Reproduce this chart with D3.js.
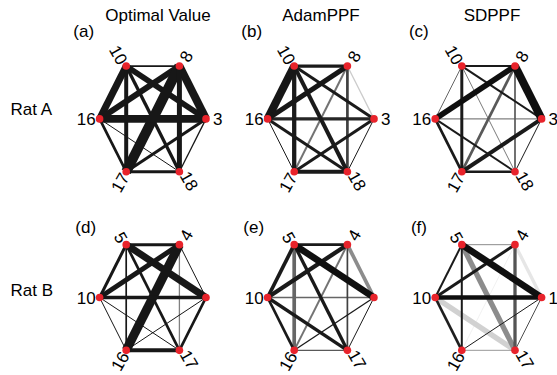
<!DOCTYPE html>
<html>
<head>
<meta charset="utf-8">
<script src="https://cdn.jsdelivr.net/npm/d3@7"></script>
<style>
  html, body { margin: 0; padding: 0; background: #fff; }
  svg { display: block; font-family: "Liberation Sans", Arial, Helvetica, sans-serif; }
</style>
</head>
<body>
<svg id="chart" width="557" height="375"></svg>
<script>
// Node labels, counter-clockwise from the rightmost vertex of the hexagon
const ratANodes = ["3", "8", "10", "16", "17", "18"];
const ratBNodes = ["1", "4", "5", "10", "16", "17"];

// Vertex index: 0 = right, 1 = top-right, 2 = top-left, 3 = left, 4 = bottom-left, 5 = bottom-right
const edgePairs = [
  [2, 1], [2, 3], [2, 0], [2, 4], [2, 5],
  [1, 3], [1, 0], [1, 4], [1, 5],
  [3, 0], [3, 4], [3, 5],
  [0, 4], [0, 5],
  [4, 5]
];

const methods = ["Optimal Value", "AdamPPF", "SDPPF"];
const rats = ["Rat A", "Rat B"];
const panelTags = ["(a)", "(b)", "(c)", "(d)", "(e)", "(f)"];

// Edge weights (0..1), same order as edgePairs
const weightOptimalA = [0.17, 0.70, 0.57, 0.40, 0.33, 0.60, 0.80, 1.00, 0.50, 0.77, 0.27, 0.10, 0.30, 0.13, 0.30];
const weightAdamA    = [0.33, 0.80, 0.30, 0.43, 0.40, 0.50, 0.13, 0.20, 0.27, 0.33, 0.10, 0.30, 0.30, 0.10, 0.40];
const weightSdA      = [0.20, 0.10, 0.20, 0.30, 0.08, 0.57, 0.80, 0.27, 0.17, 0.13, 0.27, 0.20, 0.40, 0.10, 0.27];
const weightOptimalB = [0.30, 0.30, 0.70, 0.17, 0.27, 0.50, 0.10, 0.90, 0.13, 0.37, 0.10, 0.10, 0.10, 0.27, 0.40];
const weightAdamB    = [0.27, 0.37, 0.67, 0.37, 0.33, 0.43, 0.37, 0.20, 0.17, 0.13, 0.27, 0.33, 0.13, 0.10, 0.13];
const weightSdB      = [0.10, 0.20, 0.67, 0.20, 0.53, 0.30, 0.33, 0.07, 0.33, 0.47, 0.27, 0.53, 0.10, 0.10, 0.10];

// Edge shade (0 = black, 1 = white), same order as edgePairs
const shadeOptimalA = [0.09, 0.09, 0.09, 0.09, 0.09, 0.09, 0.09, 0.09, 0.09, 0.09, 0.09, 0.09, 0.09, 0.09, 0.09];
const shadeAdamA    = [0.10, 0.09, 0.10, 0.10, 0.10, 0.09, 0.80, 0.45, 0.25, 0.15, 0.10, 0.10, 0.10, 0.10, 0.10];
const shadeSdA      = [0.10, 0.40, 0.10, 0.10, 0.35, 0.06, 0.06, 0.35, 0.35, 0.50, 0.10, 0.10, 0.10, 0.10, 0.10];
const shadeOptimalB = [0.09, 0.09, 0.09, 0.09, 0.09, 0.09, 0.09, 0.09, 0.50, 0.09, 0.09, 0.09, 0.09, 0.09, 0.09];
const shadeAdamB    = [0.10, 0.10, 0.06, 0.40, 0.10, 0.10, 0.55, 0.45, 0.25, 0.40, 0.10, 0.10, 0.10, 0.10, 0.35];
const shadeSdB      = [0.55, 0.10, 0.06, 0.10, 0.55, 0.10, 0.90, 0.92, 0.33, 0.06, 0.12, 0.82, 0.10, 0.30, 0.60];

const panels = [
  { row: 0, col: 0, nodes: ratANodes, weight: weightOptimalA, shade: shadeOptimalA },
  { row: 0, col: 1, nodes: ratANodes, weight: weightAdamA,    shade: shadeAdamA },
  { row: 0, col: 2, nodes: ratANodes, weight: weightSdA,      shade: shadeSdA },
  { row: 1, col: 0, nodes: ratBNodes, weight: weightOptimalB, shade: shadeOptimalB },
  { row: 1, col: 1, nodes: ratBNodes, weight: weightAdamB,    shade: shadeAdamB },
  { row: 1, col: 2, nodes: ratBNodes, weight: weightSdB,      shade: shadeSdB }
];

const svg = d3.select("#chart");

const colCenters = [152.8, 320.8, 488.4];
const rowCenters = [118.9, 297.5];
const radiusX = 53.2;
const radiusY = 61.0;   // vertical extent of the unit circle (axes not equal)

const widthScale = d3.scaleLinear().domain([0, 1]).range([0, 10]);
const shadeScale = d3.scaleLinear().domain([0, 1]).range(["#000000", "#ffffff"]);
const nodeColor = "#e8232b";
const fontSize = 17;

// Label gap from the node centre and sideways shift (in the rotated text frame), per vertex
const labelGap   = [7, 7, 4, 4, 3, 3.5];
const labelShift = [0, 1, 1, 0, 0, -4];

// Column titles
const titleX = [158, 321, 492];
svg.selectAll("text.title")
  .data(methods)
  .join("text")
  .attr("class", "title")
  .attr("x", (d, i) => titleX[i])
  .attr("y", 20.5)
  .attr("text-anchor", "middle")
  .attr("font-size", fontSize)
  .text(d => d);

// Row labels
svg.selectAll("text.rat")
  .data(rats)
  .join("text")
  .attr("class", "rat")
  .attr("x", 10.5)
  .attr("y", (d, i) => [115, 296][i])
  .attr("font-size", fontSize)
  .text(d => d);

panels.forEach((p, pi) => {
  const cx = colCenters[p.col];
  const cy = rowCenters[p.row];
  const x = d3.scaleLinear().domain([-1, 1]).range([cx - radiusX, cx + radiusX]);
  const y = d3.scaleLinear().domain([-1, 1]).range([cy + radiusY, cy - radiusY]);

  const g = svg.append("g").attr("class", "panel");

  // Axes background of the lower panels reaches slightly into the neighbour on the left
  if (p.row === 1 && p.col > 0) {
    g.append("rect")
      .attr("x", cx - 110.5).attr("y", cy - 100)
      .attr("width", 40).attr("height", 200)
      .attr("fill", "#fff");
  }

  const verts = p.nodes.map((label, i) => {
    const a = i * Math.PI / 3;
    return { label, i, angle: i * 60, ux: Math.cos(a), uy: Math.sin(a) };
  });

  g.append("text")
    .attr("x", cx + (p.row === 0 ? -79.5 : -77.5))
    .attr("y", p.row === 0 ? cy - 82 : cy - 64.5)
    .attr("font-size", fontSize)
    .text(panelTags[pi]);

  // Lighter edges go underneath darker ones
  const edges = edgePairs
    .map((e, k) => ({ s: verts[e[0]], t: verts[e[1]], w: p.weight[k], c: p.shade[k], k }))
    .sort((a, b) => d3.descending(a.c, b.c) || d3.ascending(a.k, b.k));

  g.selectAll("line.edge")
    .data(edges)
    .join("line")
    .attr("class", "edge")
    .attr("x1", d => x(d.s.ux)).attr("y1", d => y(d.s.uy))
    .attr("x2", d => x(d.t.ux)).attr("y2", d => y(d.t.uy))
    .attr("stroke", d => shadeScale(d.c))
    .attr("stroke-width", d => widthScale(d.w))
    .attr("stroke-linecap", "butt");

  g.selectAll("circle.node")
    .data(verts)
    .join("circle")
    .attr("class", "node")
    .attr("cx", d => x(d.ux)).attr("cy", d => y(d.uy))
    .attr("r", 3.8)
    .attr("fill", nodeColor);

  // Node labels, rotated along the radial direction
  g.selectAll("text.node-label")
    .data(verts)
    .join("text")
    .attr("class", "node-label")
    .attr("font-size", fontSize)
    .attr("x", 0)
    .attr("y", d => labelShift[d.i])
    .attr("dy", "0.36em")
    .attr("text-anchor", d => d.ux < -0.01 ? "end" : "start")
    .attr("transform", d => {
      const px = x(d.ux), py = y(d.uy);
      const rad = d.angle * Math.PI / 180;
      const left = d.ux < -0.01;
      const off = labelGap[d.i];
      const tx = px + off * Math.cos(rad);
      const ty = py - off * Math.sin(rad);
      let rot = -d.angle;
      if (left) rot += 180;
      return `translate(${tx},${ty}) rotate(${rot})`;
    })
    .text(d => d.label);
});
</script>
</body>
</html>
